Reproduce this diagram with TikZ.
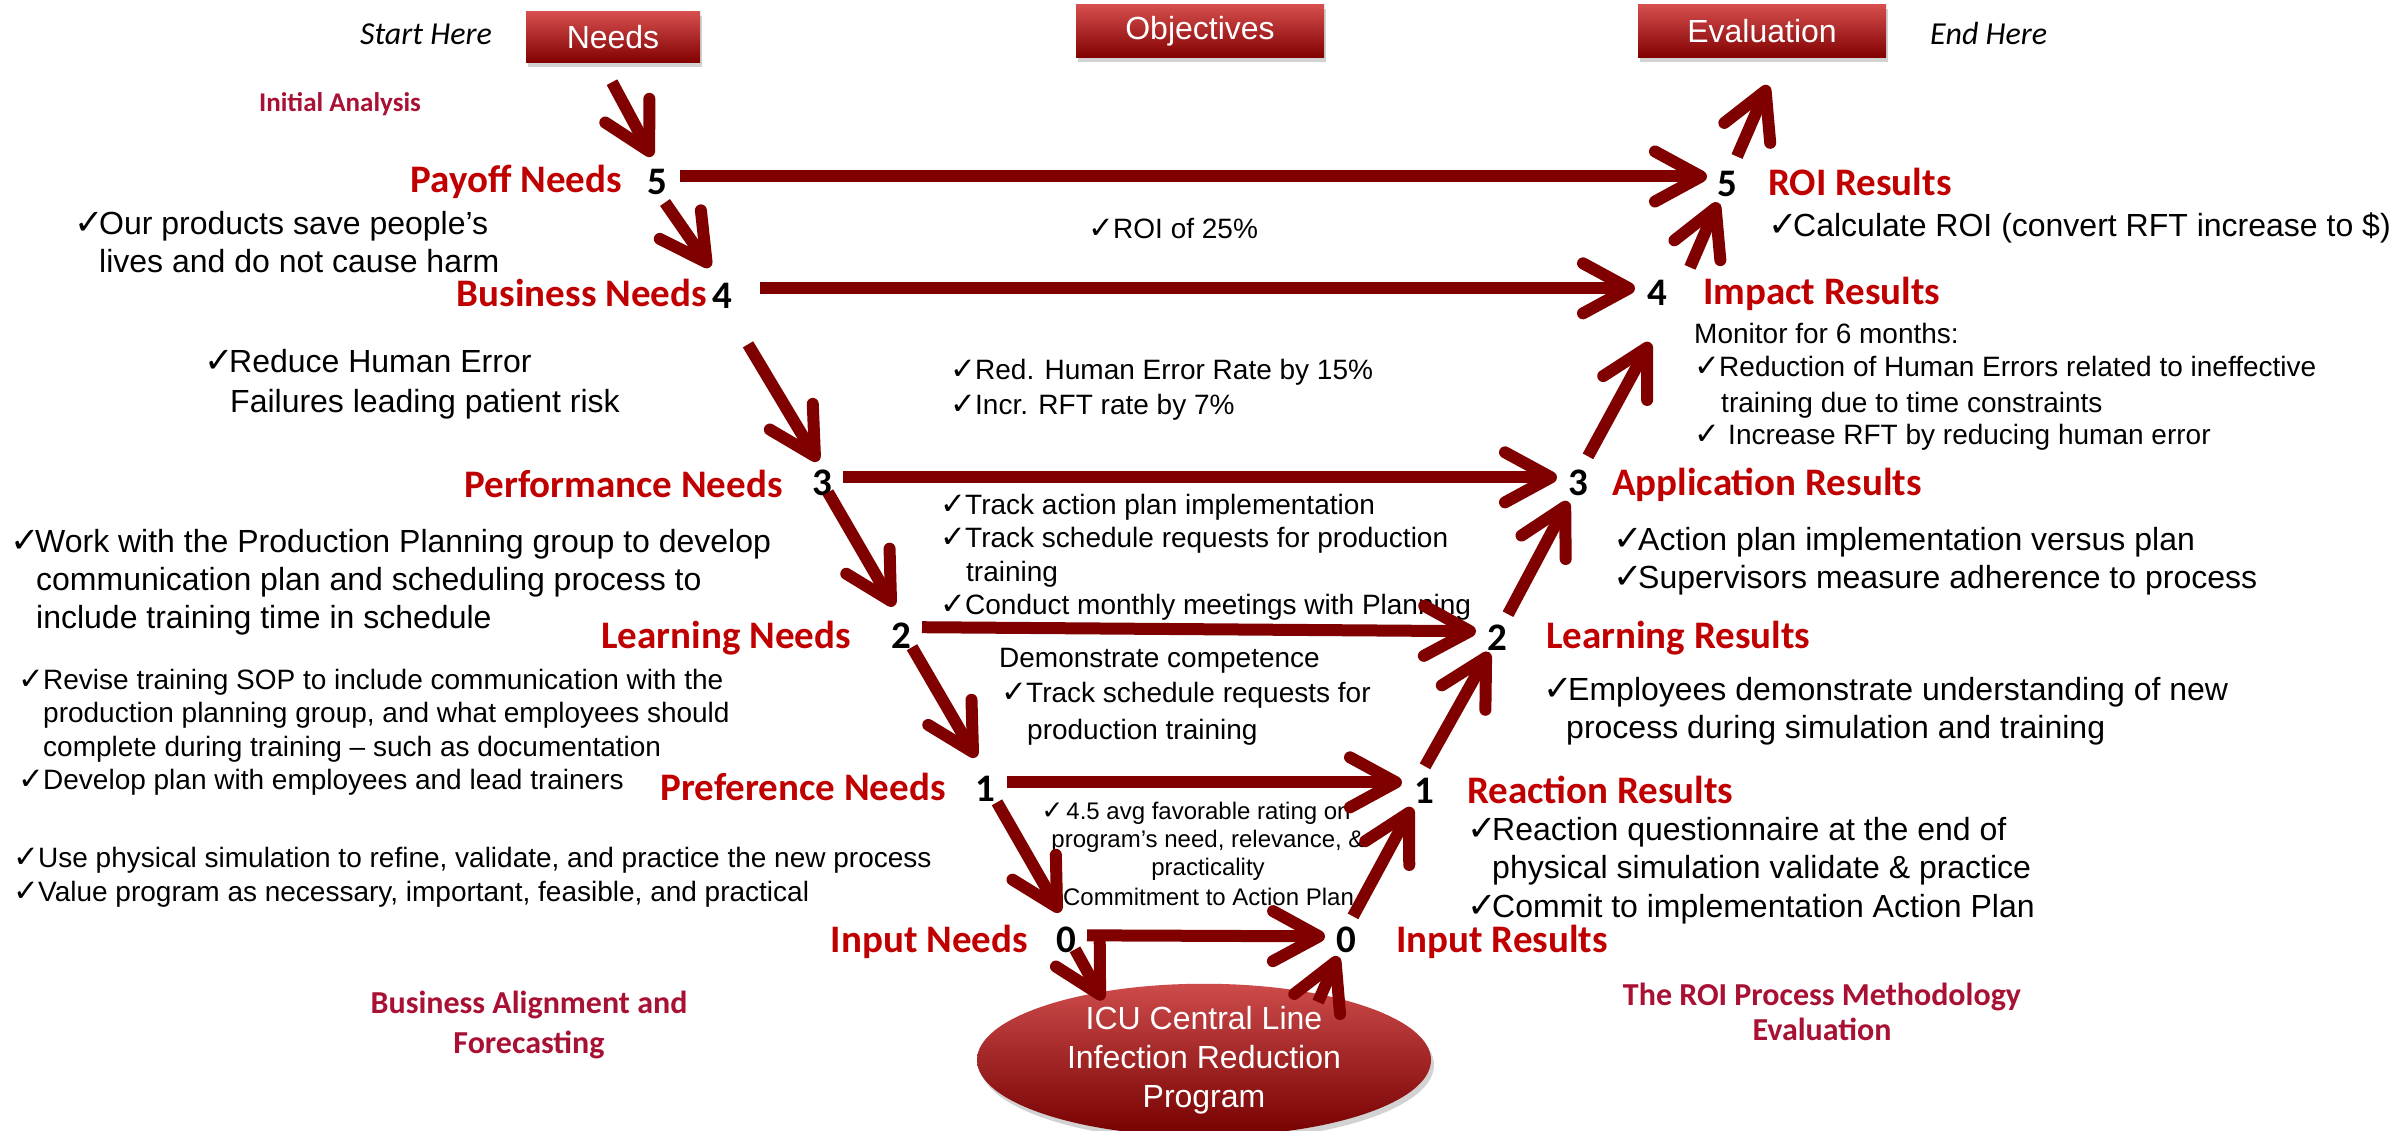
\documentclass[tikz,border=0pt]{standalone}
\usepackage{fontspec}
\setmainfont{Liberation Sans}
\newfontfamily\calfont{Carlito}
\newfontfamily\checkfont[Scale=1.1]{DejaVu Sans}
\usetikzlibrary{arrows.meta,shapes.geometric,shadows}

\definecolor{arrowred}{RGB}{128,0,0}
\definecolor{headred}{RGB}{192,0,0}
\definecolor{crim}{RGB}{168,16,52}
\definecolor{boxtop}{RGB}{214,78,78}
\definecolor{boxmid}{RGB}{165,18,18}
\definecolor{boxbot}{RGB}{128,0,0}

\newcommand\ck{\makebox[25pt][l]{\checkfont ✓}}
\newcommand\ckwide{\makebox[34pt][l]{\checkfont ✓}}

\begin{document}
\begin{tikzpicture}[x=1pt,y=-1pt,
  body/.style={anchor=base west, inner sep=0pt, font=\fontsize{32}{38}\selectfont},
  bodys/.style={anchor=base west, inner sep=0pt, font=\fontsize{28}{34}\selectfont},
  bodyxs/.style={anchor=base, inner sep=0pt, font=\fontsize{24}{29}\selectfont},
  needlbl/.style={anchor=base east, inner sep=0pt, text=headred, font=\calfont\bfseries\fontsize{39}{47}\selectfont},
  reslbl/.style={anchor=base west, inner sep=0pt, text=headred, font=\calfont\bfseries\fontsize{39}{47}\selectfont},
  numlbl/.style={anchor=base, inner sep=0pt, font=\calfont\bfseries\fontsize{39}{47}\selectfont},
  phase/.style={anchor=base, inner sep=0pt, text=crim, font=\calfont\bfseries\fontsize{32}{38}\selectfont},
  phasesm/.style={anchor=base, inner sep=0pt, text=crim, font=\calfont\bfseries\fontsize{27}{32}\selectfont},
  hint/.style={anchor=base west, inner sep=0pt, font=\calfont\itshape\fontsize{32}{38}\selectfont},
  hbox/.style={rectangle, inner sep=0pt, text=white, font=\fontsize{32}{38}\selectfont,
    top color=boxtop, middle color=boxmid, bottom color=boxbot,
    drop shadow={opacity=0.35, shadow xshift=2pt, shadow yshift=-4pt}},
  progshape/.style={ellipse, inner sep=0pt, minimum width=454pt, minimum height=144pt,
    text=white, align=center, font=\fontsize{32}{39}\selectfont,
    top color={rgb,255:red,205;green,75;blue,75}, middle color={rgb,255:red,152;green,12;blue,12},
    bottom color={rgb,255:red,118;green,0;blue,0},
    drop shadow={opacity=0.35, shadow xshift=3pt, shadow yshift=-5pt}},
  bigarrow/.style={draw=arrowred, line width=12pt, line cap=butt,
    -{Straight Barb[length=46pt,width=50pt,round]}}
]
\useasboundingbox (0,0) rectangle (2395,1131);
\fill[white] (0,0) rectangle (2395,1131);

% header boxes
\node[hbox, minimum width=174pt, minimum height=51pt] (needs) at (613,37.5) {Needs};
\node[hbox, minimum width=248pt, minimum height=53pt] (obj) at (1200,31.5) {Objectives};
\node[hbox, minimum width=248pt, minimum height=53pt] (eval) at (1762,31.5) {Evaluation};
\node[hint] (start) at (360,45) {Start Here};
\node[hint] (endh) at (1930,45) {End Here};

% program ellipse
\node[progshape] (prog) at (1204,1060) {ICU Central Line\\Infection Reduction\\Program};

% phase captions
\node[phasesm] (init) at (340,112) {Initial Analysis};
\node[phase] (bal1) at (529,1013) {Business Alignment and};
\node[phase] (bal2) at (529,1053) {Forecasting};
\node[phase] (roi1) at (1822,1005) {The ROI Process Methodology};
\node[phase] (roi2) at (1822,1040) {Evaluation};

% level captions
\node[needlbl] (payoff) at (622,193) {Payoff Needs};
\node[needlbl] (busn) at (707,307) {Business Needs};
\node[needlbl] (perf) at (783,497) {Performance Needs};
\node[needlbl] (learn) at (851,648) {Learning Needs};
\node[needlbl] (pref) at (946,800) {Preference Needs};
\node[needlbl] (inpn) at (1028,952) {Input Needs};
\node[reslbl] (roires) at (1768,196) {ROI Results};
\node[reslbl] (impres) at (1703,305) {Impact Results};
\node[reslbl] (appres) at (1612,495) {Application Results};
\node[reslbl] (lrnres) at (1546,648) {Learning Results};
\node[reslbl] (reares) at (1467,803) {Reaction Results};
\node[reslbl] (inpres) at (1396,952) {Input Results};

% level numbers
\node[numlbl] (n5L) at (657,195) {5};
\node[numlbl] (n4L) at (722,309) {4};
\node[numlbl] (n3L) at (822,495) {3};
\node[numlbl] (n2L) at (901,648) {2};
\node[numlbl] (n1L) at (985,801) {1};
\node[numlbl] (n0L) at (1066,952) {0};
\node[numlbl] (n5R) at (1727,197) {5};
\node[numlbl] (n4R) at (1657,306) {4};
\node[numlbl] (n3R) at (1578,495) {3};
\node[numlbl] (n2R) at (1497,650) {2};
\node[numlbl] (n1R) at (1424,803) {1};
\node[numlbl] (n0R) at (1346,952) {0};

% needs-side notes
\node[body] (a1) at (74,235) {\ck Our products save people’s};
\node[body] (a2) at (99,273) {lives and do not cause harm};
\node[body] (b1) at (204,373) {\ck Reduce Human Error};
\node[body] (b2) at (230,412) {Failures leading patient risk};
\node[body] (c1) at (10,552) {\ck Work with the Production Planning group to develop};
\node[body] (c2) at (36,590) {communication plan and scheduling process to};
\node[body] (c3) at (36,628) {include training time in schedule};
\node[bodys] (d1) at (18,689) {\ck Revise training SOP to include communication with the};
\node[bodys] (d2) at (43,722) {production planning group, and what employees should};
\node[bodys] (d3) at (43,756) {complete during training – such as documentation};
\node[bodys] (d4) at (18,789) {\ck Develop plan with employees and lead trainers};
\node[bodys] (e1) at (13,867) {\ck Use physical simulation to refine, validate, and practice the new process};
\node[bodys] (e2) at (13,901) {\ck Value program as necessary, important, feasible, and practical};

% objectives notes
\node[bodys] (h1) at (1088,239) {\ck ROI of 25\%};
\node[bodys] (i1) at (950,379) {\ck Red. Human Error Rate by 15\%};
\node[bodys] (i2) at (950,414) {\ck Incr. RFT rate by 7\%};
\node[bodys] (j1) at (940,514) {\ck Track action plan implementation};
\node[bodys] (j2) at (940,547) {\ck Track schedule requests for production};
\node[bodys] (j3) at (966,581) {training};
\node[bodys] (j4) at (940,614) {\ck Conduct monthly meetings with Planning};
\node[bodys] (k1) at (999,667) {Demonstrate competence};
\node[bodys] (k2) at (1001,702) {\ck Track schedule requests for};
\node[bodys] (k3) at (1027,739) {production training};
\node[bodyxs] (l1) at (1196,819) {\ck 4.5 avg favorable rating on};
\node[bodyxs] (l2) at (1208,847) {program’s need, relevance, \&};
\node[bodyxs] (l3) at (1208,875) {practicality};
\node[bodyxs] (l4) at (1196,905) {\ck Commitment to Action Plan};

% evaluation-side notes
\node[body] (m1) at (1768,237) {\ck Calculate ROI (convert RFT increase to \$)};
\node[bodys] (r1) at (1694,344) {Monitor for 6 months:};
\node[bodys] (r2) at (1694,377) {\ck Reduction of Human Errors related to ineffective};
\node[bodys] (r3) at (1721,412) {training due to time constraints};
\node[bodys] (r4) at (1694,444) {\ckwide Increase RFT by reducing human error};
\node[body] (o1) at (1613,550) {\ck Action plan implementation versus plan};
\node[body] (o2) at (1613,588) {\ck Supervisors measure adherence to process};
\node[body] (p1) at (1543,700) {\ck Employees demonstrate understanding of new};
\node[body] (p2) at (1566,738) {process during simulation and training};
\node[body] (q1) at (1467,840) {\ck Reaction questionnaire at the end of};
\node[body] (q2) at (1492,878) {physical simulation validate \& practice};
\node[body] (q3) at (1467,917) {\ck Commit to implementation Action Plan};

% descending chain
\draw[bigarrow] ([shift={(-1,19)}]needs.south) -- ([shift={(-5,-26)}]n5L.center);
\draw[bigarrow] ([shift={(8,20)}]n5L.center) -- ([shift={(-12,-29)}]n4L.center);
\draw[bigarrow] ([shift={(26,48)}]n4L.center) -- ([shift={(-4,-21)}]n3L.center);
\draw[bigarrow] ([shift={(6,10)}]n3L.center) -- ([shift={(-7,-29)}]n2L.center);
\draw[bigarrow] ([shift={(11,12)}]n2L.center) -- ([shift={(-9,-31)}]n1L.center);
\draw[bigarrow] ([shift={(12,14)}]n1L.center) -- ([shift={(-6,-27)}]n0L.center);
\draw[bigarrow] ([shift={(9,10)}]n0L.center) -- ([shift={(-101,-60)}]prog.center);

% ascending chain
\draw[bigarrow] ([shift={(114,-58)}]prog.center) -- ([shift={(-8,17)}]n0R.center);
\draw[bigarrow] ([shift={(7,-23)}]n0R.center) -- ([shift={(-12,17)}]n1R.center);
\draw[bigarrow] ([shift={(1,-24)}]n1R.center) -- ([shift={(-8,15)}]n2R.center);
\draw[bigarrow] ([shift={(11,-23)}]n2R.center) -- ([shift={(-10,19)}]n3R.center);
\draw[bigarrow] ([shift={(10,-26)}]n3R.center) -- ([shift={(-7,49)}]n4R.center);
\draw[bigarrow] ([shift={(33,-26)}]n4R.center) -- ([shift={(-9,18)}]n5R.center);
\draw[bigarrow] ([shift={(10,-28)}]n5R.center) -- ([shift={(6,27)}]eval.south);

% level links
\draw[bigarrow] ([shift={(23,-6)}]n5L.center) -- ([shift={(-20,-8)}]n5R.center);
\draw[bigarrow] ([shift={(38,-8)}]n4L.center) -- ([shift={(-22,-5)}]n4R.center);
\draw[bigarrow] ([shift={(21,-5)}]n3L.center) -- ([shift={(-21,-5)}]n3R.center);
\draw[bigarrow] ([shift={(21,-8)}]n2L.center) -- ([shift={(-21,-6)}]n2R.center);
\draw[bigarrow] ([shift={(22,-6)}]n1L.center) -- ([shift={(-22,-8)}]n1R.center);
\draw[bigarrow] ([shift={(21,-4)}]n0L.center) -- ([shift={(-21,-3)}]n0R.center);
\end{tikzpicture}
\end{document}
